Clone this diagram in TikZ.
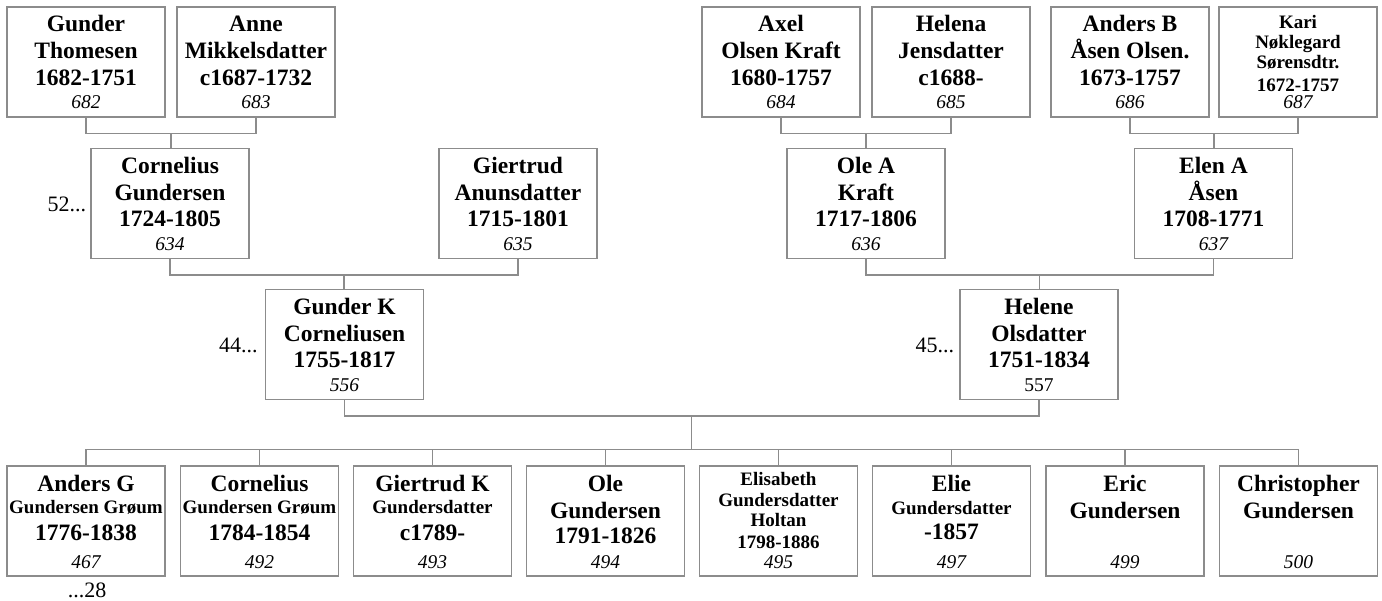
\documentclass[tikz,border=0pt]{standalone}
\usepackage{fontspec}
\setmainfont{Liberation Serif}
\usetikzlibrary{calc}
\definecolor{lg}{RGB}{140,140,140}
\newcommand\Ln[2]{\vskip#1\relax\hbox to 158pt{\hss\smash{#2}\hss}}
\newcommand\Lb[2]{\Ln{#1}{\fontsize{23.5pt}{26pt}\selectfont\bfseries #2}}
\newcommand\Ls[2]{\Ln{#1}{\fontsize{19pt}{21pt}\selectfont\bfseries #2}}
\newcommand\Pbox[2]{\vbox to 110pt{\offinterlineskip #1\vss\Ln{0pt}{\fontsize{19.5pt}{21pt}\selectfont #2}\vskip8pt}}
\newcommand\couple[4]{%
  \coordinate (#4) at ($(#1.south)!0.5!(#2.south)+(0,16)$);
  \draw[conn] (#1.south) |- (#4) -| (#2.south);
  \draw[conn] (#4) -- (#4 |- #3.north);}
\tikzset{
  pbox/.style={draw=lg, line width=1.3pt, inner sep=0pt, rectangle},
  conn/.style={draw=lg, line width=1.3pt},
  side/.style={font=\fontsize{22pt}{24pt}\selectfont, inner sep=0pt}
}
\begin{document}
\begin{tikzpicture}[x=1pt,y=-1pt]
\useasboundingbox (0,0) rectangle (1382,601);
% top row
\node[pbox] (p682) at (86,62) {\Pbox{\Lb{25pt}{Gunder}\Lb{26.7pt}{Thomesen}\Lb{26.7pt}{1682-1751}}{\itshape 682}};
\node[pbox] (p683) at (256,62) {\Pbox{\Lb{25pt}{Anne}\Lb{26.7pt}{Mikkelsdatter}\Lb{26.7pt}{c1687-1732}}{\itshape 683}};
\node[pbox] (p684) at (781,62) {\Pbox{\Lb{25pt}{Axel}\Lb{26.7pt}{Olsen Kraft}\Lb{26.7pt}{1680-1757}}{\itshape 684}};
\node[pbox] (p685) at (951,62) {\Pbox{\Lb{25pt}{Helena}\Lb{26.7pt}{Jensdatter}\Lb{26.7pt}{c1688-}}{\itshape 685}};
\node[pbox] (p686) at (1130,62) {\Pbox{\Lb{25pt}{Anders B}\Lb{26.7pt}{Åsen Olsen.}\Lb{26.7pt}{1673-1757}}{\itshape 686}};
\node[pbox] (p687) at (1298,62) {\Pbox{\Ls{21.3pt}{Kari}\Ls{20pt}{Nøklegard}\Ls{20pt}{Sørensdtr.}\Ls{23pt}{1672-1757}}{\itshape 687}};
% middle row
\node[pbox] (p634) at (170,203.5) {\Pbox{\Lb{25pt}{Cornelius}\Lb{26.7pt}{Gundersen}\Lb{26.7pt}{1724-1805}}{\itshape 634}};
\node[pbox] (p635) at (518,203.5) {\Pbox{\Lb{25pt}{Giertrud}\Lb{26.7pt}{Anunsdatter}\Lb{26.7pt}{1715-1801}}{\itshape 635}};
\node[pbox] (p636) at (866,203.5) {\Pbox{\Lb{25pt}{Ole A}\Lb{26.7pt}{Kraft}\Lb{26.7pt}{1717-1806}}{\itshape 636}};
\node[pbox] (p637) at (1213.5,203.5) {\Pbox{\Lb{25pt}{Elen A}\Lb{26.7pt}{Åsen}\Lb{26.7pt}{1708-1771}}{\itshape 637}};
% parents
\node[pbox] (p556) at (344.5,344.5) {\Pbox{\Lb{25pt}{Gunder K}\Lb{26.7pt}{Corneliusen}\Lb{26.7pt}{1755-1817}}{\itshape 556}};
\node[pbox] (p557) at (1039,344.5) {\Pbox{\Lb{25pt}{Helene}\Lb{26.7pt}{Olsdatter}\Lb{26.7pt}{1751-1834}}{557}};
% children
\node[pbox] (c467) at (86,521) {\Pbox{\Lb{25.7pt}{Anders G}\Ls{21.6pt}{Gundersen Grøum}\Lb{26.7pt}{1776-1838}}{\itshape 467}};
\node[pbox] (c492) at (259.5,521) {\Pbox{\Lb{25.7pt}{Cornelius}\Ls{21.6pt}{Gundersen Grøum}\Lb{26.7pt}{1784-1854}}{\itshape 492}};
\node[pbox] (c493) at (432.5,521) {\Pbox{\Lb{25.7pt}{Giertrud K}\Ls{21.6pt}{Gundersdatter}\Lb{26.7pt}{c1789-}}{\itshape 493}};
\node[pbox] (c494) at (605.5,521) {\Pbox{\Lb{25.7pt}{Ole}\Lb{26.7pt}{Gundersen}\Lb{25pt}{1791-1826}}{\itshape 494}};
\node[pbox] (c495) at (778.5,521) {\Pbox{\Ls{19pt}{Elisabeth}\Ls{21.7pt}{Gundersdatter}\Ls{20pt}{Holtan}\Ls{21.6pt}{1798-1886}}{\itshape 495}};
\node[pbox] (c497) at (951.5,521) {\Pbox{\Lb{25.7pt}{Elie}\Ls{22.5pt}{Gundersdatter}\Lb{25.5pt}{-1857}}{\itshape 497}};
\node[pbox] (c499) at (1125,521) {\Pbox{\Lb{25.7pt}{Eric}\Lb{26.7pt}{Gundersen}}{\itshape 499}};
\node[pbox] (c500) at (1298.5,521) {\Pbox{\Lb{25.7pt}{Christopher}\Lb{26.7pt}{Gundersen}}{\itshape 500}};
% side labels
\node[side, anchor=east] (l52) at ($(p634.west)+(-4,1)$) {52...};
\node[side, anchor=east] (l44) at ($(p556.west)+(-7,1)$) {44...};
\node[side, anchor=east] (l45) at ($(p557.west)+(-5,1)$) {45...};
\node[side, anchor=north] (l28) at ($(c467.south)+(1,6)$) {...28};
% connectors
\couple{p682}{p683}{p634}{m1}
\couple{p684}{p685}{p636}{m2}
\couple{p686}{p687}{p637}{m3}
\couple{p634}{p635}{p556}{m4}
\couple{p636}{p637}{p557}{m5}
\coordinate (kids) at ($(p556.south)!0.5!(p557.south)+(0,16)$);
\draw[conn] (p556.south) |- (kids) -| (p557.south);
\coordinate (kl) at ($(c467.north)+(0,-16)$);
\draw[conn] (kids) -- (kids |- kl);
\draw[conn] (kl) -- (kl -| c500.north);
\foreach \c in {467,492,493,494,495,497,499,500}
  \draw[conn] (c\c.north) -- (c\c.north |- kl);
\end{tikzpicture}
\end{document}
